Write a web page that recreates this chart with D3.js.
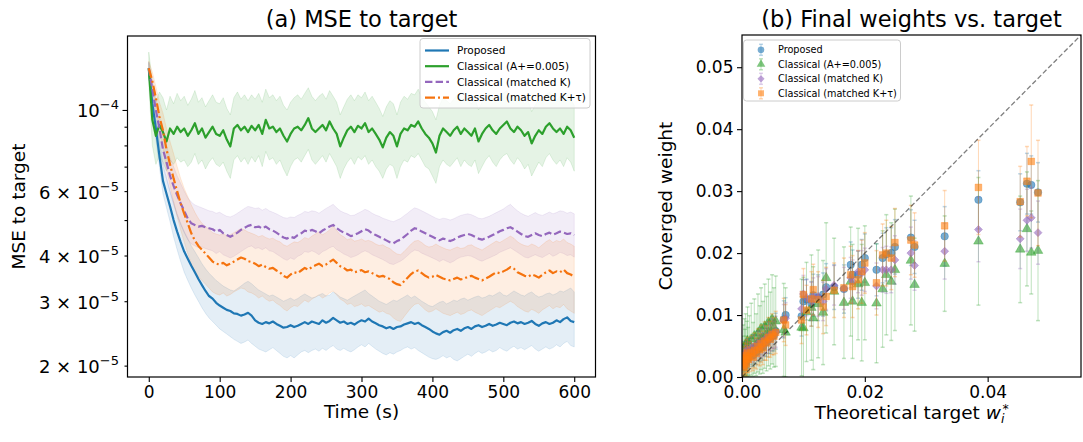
<!DOCTYPE html>
<html><head><meta charset="utf-8">
<script src="https://cdn.jsdelivr.net/npm/d3@7"></script>
<style>body{margin:0;background:#fff;} svg{display:block;font-family:"DejaVu Sans",sans-serif;}</style>
</head><body><svg id="c" width="1083" height="442"></svg>
<script>
// ---------------- Panel (a): MSE to target (values in units of 1e-5) ----------------
const MSE_UNIT = 1e-5;
const timeS = [0,5,10,15,20,25,30,35,40,45,50,55,60,65,70,75,80,85,90,95,100,105,110,115,120,125,130,135,140,145,150,155,160,165,170,175,180,185,190,195,200,205,210,215,220,225,230,235,240,245,250,255,260,265,270,275,280,285,290,295,300,305,310,315,320,325,330,335,340,345,350,355,360,365,370,375,380,385,390,395,400,405,410,415,420,425,430,435,440,445,450,455,460,465,470,475,480,485,490,495,500,505,510,515,520,525,530,535,540,545,550,555,560,565,570,575,580,585,590,595,600];

const propMean = [13.0,10.4,8.9,7.5,6.4,5.9,5.45,5.0,4.65,4.35,
4.1,3.92,3.75,3.6,3.45,3.32,3.2,3.1,3.05,2.97,
2.92,2.88,2.84,2.82,2.78,2.77,2.74,2.76,2.79,2.74,
2.66,2.62,2.6,2.63,2.61,2.64,2.6,2.57,2.54,2.55,
2.58,2.55,2.57,2.6,2.63,2.6,2.64,2.62,2.6,2.66,
2.62,2.65,2.7,2.66,2.62,2.64,2.6,2.62,2.59,2.63,
2.66,2.64,2.69,2.64,2.61,2.58,2.56,2.53,2.55,2.52,
2.55,2.56,2.59,2.61,2.63,2.6,2.62,2.58,2.55,2.52,
2.48,2.45,2.43,2.47,2.49,2.46,2.5,2.52,2.49,2.53,
2.55,2.52,2.56,2.58,2.55,2.57,2.6,2.57,2.59,2.62,
2.6,2.58,2.62,2.64,2.61,2.63,2.6,2.62,2.65,2.6,
2.57,2.61,2.63,2.6,2.62,2.66,2.63,2.68,2.71,2.65,
2.63];
const propHi = [13.5,11.0,9.5,8.1,7.0,6.5,6.0,5.6,5.2,4.9,
4.65,4.45,4.25,4.1,3.95,3.8,3.68,3.58,3.5,3.42,
3.36,3.3,3.26,3.22,3.2,3.25,3.3,3.36,3.4,3.35,
3.28,3.22,3.18,3.14,3.1,3.12,3.08,3.04,3.0,3.03,
3.06,3.02,3.05,3.1,3.14,3.1,3.06,3.08,3.12,3.15,
3.1,3.12,3.18,3.14,3.08,3.05,3.02,3.06,3.1,3.14,
3.18,3.22,3.15,3.1,3.05,3.0,2.97,2.94,2.98,3.02,
3.0,3.04,3.08,3.12,3.06,3.1,3.05,3.0,2.96,2.92,
2.9,2.94,2.98,3.0,2.95,2.98,3.02,3.0,3.04,3.06,
3.02,3.05,3.08,3.1,3.06,3.08,3.12,3.1,3.14,3.18,
3.12,3.1,3.15,3.2,3.16,3.12,3.1,3.15,3.18,3.12,
3.08,3.1,3.14,3.16,3.12,3.15,3.2,3.18,3.22,3.26,
3.18];
const propLo = [12.4,9.8,8.3,7.0,5.9,5.4,4.95,4.5,4.15,3.85,
3.6,3.42,3.26,3.12,3.0,2.88,2.78,2.7,2.64,2.58,
2.52,2.48,2.44,2.4,2.36,2.33,2.3,2.32,2.35,2.3,
2.26,2.22,2.2,2.18,2.21,2.24,2.2,2.16,2.12,2.1,
2.13,2.1,2.14,2.18,2.2,2.17,2.2,2.22,2.19,2.23,
2.2,2.24,2.27,2.22,2.2,2.23,2.2,2.18,2.21,2.25,
2.28,2.25,2.3,2.26,2.22,2.19,2.16,2.14,2.17,2.15,
2.18,2.2,2.23,2.25,2.22,2.24,2.2,2.17,2.14,2.11,
2.09,2.08,2.1,2.13,2.1,2.12,2.08,2.06,2.09,2.12,
2.15,2.12,2.16,2.19,2.16,2.18,2.21,2.18,2.2,2.24,
2.21,2.19,2.23,2.26,2.22,2.24,2.21,2.24,2.27,2.22,
2.19,2.22,2.25,2.22,2.24,2.28,2.25,2.3,2.33,2.27,
2.25];

const apMean = [13.0,9.4,8.5,9.1,8.7,8.2,8.9,8.6,9.0,8.7,
8.9,8.5,8.8,9.2,8.6,8.9,8.4,8.7,9.0,8.6,
8.5,8.8,8.3,7.95,8.9,9.1,8.8,9.0,8.7,9.05,
8.8,9.1,8.6,9.4,8.9,9.0,8.7,8.9,8.5,8.2,
8.6,8.9,9.0,8.8,9.1,9.5,8.9,8.7,8.9,9.1,
8.8,9.3,8.9,8.6,7.95,8.4,8.8,9.0,8.7,9.05,
8.9,9.2,8.7,8.9,8.6,8.3,7.9,8.4,8.7,8.5,
7.95,8.6,8.9,8.8,9.1,9.0,9.3,8.9,8.6,8.4,
8.1,7.65,8.5,8.9,8.7,8.5,8.8,9.0,8.6,8.9,
8.7,8.5,8.9,8.2,8.6,8.9,9.1,8.8,8.6,8.9,
9.1,9.3,8.9,8.7,9.0,8.8,8.5,8.7,8.1,8.5,
8.8,8.6,9.0,9.2,8.9,8.7,8.9,8.6,9.0,8.8,
8.4];
const apHi = [14.4,12.0,10.5,11.2,10.8,10.0,10.9,10.4,11.1,10.6,
10.9,10.3,10.7,11.3,10.5,10.8,10.2,10.6,11.0,10.5,
10.4,10.8,10.1,9.7,10.8,11.2,10.7,11.0,10.6,11.0,
10.7,11.1,10.5,11.4,10.8,11.0,10.6,10.9,10.3,10.0,
10.5,10.8,11.0,10.7,11.1,11.5,10.9,10.6,10.9,11.1,
10.7,11.3,10.9,10.5,9.7,10.2,10.7,11.0,10.6,11.0,
10.8,11.2,10.6,10.9,10.5,10.1,9.6,10.2,10.6,10.4,
9.7,10.5,10.9,10.7,11.1,11.0,11.4,10.8,10.5,10.2,
9.9,9.4,10.3,10.8,10.6,10.4,10.7,11.0,10.5,10.8,
10.6,10.4,10.8,10.0,10.5,10.8,11.1,10.7,10.5,10.8,
11.1,11.3,10.8,10.6,11.0,10.7,10.4,10.6,9.9,10.3,
10.7,10.5,11.0,11.2,10.8,10.6,10.9,10.5,11.0,10.7,
10.3];
const apLo = [11.8,8.0,7.1,7.5,7.2,6.8,7.3,7.1,7.4,7.2,
7.3,7.0,7.2,7.6,7.1,7.3,6.9,7.2,7.4,7.1,
7.0,7.2,6.8,6.5,7.3,7.5,7.2,7.4,7.1,7.45,
7.2,7.5,7.0,7.7,7.3,7.4,7.1,7.3,6.9,6.6,
7.0,7.3,7.4,7.2,7.5,7.8,7.3,7.1,7.3,7.5,
7.2,7.6,7.3,7.0,6.5,6.9,7.2,7.4,7.1,7.45,
7.3,7.5,7.1,7.3,7.0,6.8,6.5,6.9,7.1,7.0,
6.5,7.0,7.3,7.2,7.5,7.4,7.6,7.3,7.0,6.9,
6.6,6.3,7.0,7.3,7.1,7.0,7.2,7.4,7.0,7.3,
7.1,7.0,7.3,6.7,7.0,7.3,7.5,7.2,7.0,7.3,
7.5,7.6,7.3,7.1,7.4,7.2,6.9,7.1,6.6,6.9,
7.2,7.0,7.4,7.6,7.3,7.1,7.3,7.0,7.4,7.2,
6.8];

const kMean = [13.0,11.4,10.0,8.9,7.8,7.2,6.6,6.2,5.85,5.55,
5.3,5.05,4.9,4.85,4.8,4.82,4.78,4.75,4.72,4.65,
4.7,4.6,4.55,4.5,4.55,4.62,4.7,4.76,4.82,4.85,
4.78,4.8,4.74,4.8,4.72,4.68,4.62,4.55,4.48,4.45,
4.5,4.47,4.55,4.6,4.68,4.65,4.7,4.66,4.6,4.68,
4.74,4.8,4.85,4.75,4.68,4.62,4.58,4.52,4.55,4.6,
4.66,4.72,4.68,4.6,4.55,4.5,4.45,4.4,4.35,4.32,
4.38,4.42,4.5,4.58,4.68,4.75,4.72,4.65,4.6,4.55,
4.5,4.45,4.4,4.45,4.42,4.38,4.42,4.48,4.52,4.55,
4.58,4.55,4.5,4.45,4.42,4.46,4.5,4.55,4.6,4.66,
4.7,4.75,4.78,4.72,4.65,4.58,4.52,4.5,4.55,4.6,
4.55,4.52,4.58,4.62,4.56,4.6,4.65,4.62,4.58,4.6,
4.55];
const kHi = [13.5,12.0,10.8,9.7,8.6,8.0,7.4,7.0,6.6,6.3,
6.0,5.75,5.6,5.5,5.45,5.4,5.35,5.3,5.28,5.22,
5.25,5.18,5.12,5.1,5.15,5.22,5.3,5.38,5.45,5.42,
5.38,5.4,5.32,5.38,5.3,5.25,5.2,5.14,5.08,5.06,
5.1,5.08,5.15,5.2,5.28,5.25,5.3,5.28,5.22,5.3,
5.38,5.45,5.52,5.4,5.3,5.24,5.2,5.14,5.16,5.22,
5.28,5.35,5.3,5.22,5.16,5.12,5.06,5.02,4.98,4.95,
5.0,5.05,5.14,5.22,5.32,5.4,5.36,5.3,5.24,5.18,
5.12,5.06,5.02,5.06,5.04,5.0,5.04,5.1,5.15,5.18,
5.2,5.17,5.12,5.06,5.04,5.08,5.12,5.18,5.24,5.3,
5.36,5.45,5.52,5.4,5.3,5.22,5.16,5.12,5.18,5.24,
5.18,5.15,5.2,5.26,5.2,5.24,5.3,5.28,5.22,5.26,
5.2];
const kLo = [12.5,10.8,9.3,8.2,7.1,6.5,5.95,5.5,5.15,4.85,
4.62,4.42,4.3,4.25,4.2,4.22,4.18,4.15,4.12,4.05,
4.1,4.02,3.98,3.94,3.98,4.04,4.1,4.16,4.22,4.25,
4.18,4.2,4.15,4.2,4.12,4.1,4.04,3.98,3.92,3.88,
3.94,3.9,3.98,4.02,4.1,4.08,4.12,4.08,4.02,4.1,
4.14,4.2,4.24,4.15,4.1,4.04,4.0,3.95,3.98,4.02,
4.08,4.12,4.08,4.02,3.98,3.94,3.9,3.85,3.8,3.78,
3.82,3.86,3.92,4.0,4.08,4.14,4.12,4.06,4.02,3.98,
3.94,3.9,3.85,3.9,3.86,3.82,3.86,3.92,3.96,3.98,
4.0,3.98,3.94,3.89,3.86,3.9,3.94,3.98,4.02,4.08,
4.12,4.16,4.2,4.14,4.08,4.02,3.96,3.94,3.98,4.02,
3.98,3.95,4.0,4.05,3.98,4.02,4.08,4.05,4.0,4.02,
3.96];

const ktMean = [13.0,12.0,10.8,9.6,8.8,7.8,7.1,6.5,6.0,5.55,
5.2,4.9,4.6,4.4,4.25,4.15,4.05,3.95,3.85,3.8,
3.78,3.82,3.76,3.8,3.85,3.9,3.95,3.92,3.86,3.84,
3.8,3.74,3.78,3.72,3.68,3.7,3.64,3.6,3.52,3.48,
3.55,3.6,3.58,3.64,3.7,3.66,3.72,3.76,3.8,3.74,
3.78,3.84,3.9,3.82,3.74,3.7,3.64,3.66,3.6,3.62,
3.65,3.6,3.62,3.58,3.54,3.5,3.52,3.48,3.45,3.38,
3.34,3.32,3.4,3.48,3.56,3.62,3.64,3.58,3.52,3.48,
3.5,3.54,3.5,3.46,3.44,3.42,3.45,3.48,3.44,3.46,
3.5,3.52,3.48,3.45,3.42,3.46,3.5,3.55,3.6,3.58,
3.62,3.66,3.72,3.68,3.6,3.56,3.52,3.5,3.55,3.52,
3.48,3.54,3.6,3.64,3.58,3.62,3.6,3.66,3.58,3.55,
3.5];
const ktHi = [13.6,12.7,11.6,10.5,9.8,8.9,8.2,7.6,7.0,6.5,
6.1,5.8,5.5,5.25,5.05,4.9,4.8,4.72,4.62,4.58,
4.55,4.6,4.52,4.56,4.62,4.68,4.74,4.7,4.64,4.6,
4.56,4.5,4.54,4.48,4.44,4.46,4.4,4.36,4.28,4.24,
4.3,4.36,4.34,4.4,4.48,4.44,4.52,4.58,4.64,4.56,
4.62,4.7,4.82,4.68,4.56,4.5,4.42,4.45,4.38,4.4,
4.44,4.38,4.4,4.36,4.3,4.26,4.28,4.22,4.18,4.1,
4.04,4.02,4.1,4.2,4.3,4.38,4.4,4.34,4.26,4.22,
4.24,4.3,4.24,4.2,4.16,4.14,4.18,4.22,4.18,4.2,
4.26,4.28,4.22,4.18,4.14,4.2,4.26,4.32,4.38,4.34,
4.4,4.46,4.52,4.46,4.36,4.3,4.26,4.24,4.3,4.26,
4.2,4.28,4.36,4.42,4.34,4.4,4.36,4.44,4.34,4.3,
4.24];
const ktLo = [12.4,11.3,10.0,8.8,7.9,6.9,6.2,5.6,5.1,4.7,
4.35,4.05,3.8,3.62,3.5,3.42,3.34,3.26,3.18,3.14,
3.12,3.16,3.1,3.13,3.18,3.22,3.26,3.24,3.18,3.16,
3.12,3.06,3.1,3.04,3.0,3.02,2.96,2.92,2.86,2.82,
2.88,2.92,2.9,2.96,3.02,2.98,3.04,3.08,3.12,3.06,
3.1,3.16,3.2,3.12,3.04,3.0,2.94,2.96,2.9,2.92,
2.95,2.9,2.92,2.88,2.84,2.8,2.82,2.78,2.76,2.7,
2.66,2.64,2.72,2.8,2.88,2.94,2.96,2.9,2.84,2.8,
2.82,2.86,2.82,2.78,2.76,2.74,2.77,2.8,2.76,2.78,
2.82,2.84,2.8,2.77,2.74,2.78,2.82,2.86,2.9,2.88,
2.92,2.96,3.0,2.96,2.9,2.86,2.82,2.8,2.85,2.82,
2.78,2.84,2.88,2.92,2.86,2.9,2.88,2.94,2.86,2.82,
2.78];

const seriesNames = ["Proposed","Classical (A+=0.005)","Classical (matched K)","Classical (matched K+τ)"];
const timeTicks = [0,100,200,300,400,500,600];
const mseMajorTicks = [1e-4];
const mseMinorTicks = [2e-5,3e-5,4e-5,5e-5,6e-5,7e-5,8e-5,9e-5];
const mseLabelTicks = [[1e-4,"1","−4"],[6e-5,"6","−5"],[4e-5,"4","−5"],[3e-5,"3","−5"],[2e-5,"2","−5"]];

// ---------------- Panel (b): final weights vs target ----------------
const targets = [0.0001,0.0002,0.0003,0.0004,0.0005,0.0006,0.0007,0.0008,0.0009,0.0010,0.0012,0.0015,0.0018,0.0020,0.0023,0.0026,0.0029,0.0031,0.0034,0.0037,0.0040,0.0043,0.0046,0.0049,0.0052,0.0055,
0.0068,0.0071,
0.0097,0.0100,0.0105,0.0113,0.0116,0.0124,0.0132,0.0137,0.0150,0.0166,0.0177,0.0180,0.0189,0.0195,0.0200,0.0219,0.0229,0.0235,0.0243,0.0249,
0.0275,0.0281,0.0330,0.0385,0.0453,0.0464,0.0471,0.0482];
const propW = [0.0026,0.0030,0.0022,0.0034,0.0028,0.0038,0.0025,0.0033,0.0040,0.0031,0.0036,0.0042,0.0035,0.0045,0.0040,0.0050,0.0046,0.0055,0.0049,0.0060,0.0056,0.0065,0.0062,0.0070,0.0067,0.0074,
0.0093,0.0100,
0.0098,0.0122,0.0125,0.0118,0.0132,0.0128,0.0133,0.0145,0.0145,0.0142,0.0181,0.0165,0.0165,0.0181,0.0192,0.0173,0.0192,0.0198,0.0200,0.0210,
0.0225,0.0210,0.0227,0.0286,0.0282,0.0312,0.0310,0.0298];
const propErr = [0.0015,0.0018,0.0014,0.0019,0.0016,0.0020,0.0015,0.0018,0.0021,0.0017,0.0019,0.0022,0.0018,0.0023,0.0020,0.0024,0.0021,0.0025,0.0022,0.0026,0.0023,0.0027,0.0024,0.0028,0.0025,0.0029,
0.0030,0.0028,
0.0032,0.0035,0.0033,0.0036,0.0034,0.0037,0.0035,0.0038,0.0036,0.0039,0.0037,0.0040,0.0038,0.0041,0.0039,0.0042,0.0040,0.0043,0.0041,0.0044,
0.0045,0.0043,0.0048,0.0047,0.0046,0.0049,0.0047,0.0048];
const apW = [0.0031,0.0042,0.0025,0.0048,0.0037,0.0052,0.0030,0.0045,0.0058,0.0039,0.0050,0.0061,0.0044,0.0066,0.0052,0.0071,0.0060,0.0078,0.0064,0.0082,0.0070,0.0088,0.0075,0.0093,0.0080,0.0090,
0.0076,0.0072,
0.0080,0.0079,0.0105,0.0112,0.0095,0.0118,0.0104,0.0160,0.0138,0.0120,0.0154,0.0122,0.0150,0.0120,0.0152,0.0119,0.0142,0.0165,0.0154,0.0173,
0.0188,0.0149,0.0183,0.0219,0.0206,0.0239,0.0201,0.0204];
const apErr = [0.0035,0.0042,0.0032,0.0046,0.0040,0.0050,0.0036,0.0045,0.0055,0.0041,0.0049,0.0058,0.0044,0.0060,0.0050,0.0063,0.0055,0.0066,0.0058,0.0068,0.0060,0.0070,0.0062,0.0072,0.0064,0.0073,
0.0075,0.0072,
0.0078,0.0082,0.0080,0.0085,0.0083,0.0087,0.0084,0.0089,0.0086,0.0090,0.0088,0.0092,0.0090,0.0094,0.0092,0.0096,0.0094,0.0097,0.0095,0.0098,
0.0104,0.0075,0.0077,0.0103,0.0086,0.0092,0.0067,0.0113];
const kW = [0.0028,0.0033,0.0024,0.0036,0.0030,0.0041,0.0027,0.0036,0.0044,0.0034,0.0040,0.0047,0.0039,0.0049,0.0044,0.0054,0.0049,0.0057,0.0052,0.0061,0.0058,0.0066,0.0063,0.0070,0.0068,0.0073,
0.0091,0.0095,
0.0110,0.0134,0.0128,0.0122,0.0130,0.0130,0.0122,0.0142,0.0148,0.0143,0.0160,0.0154,0.0170,0.0168,0.0173,0.0147,0.0173,0.0173,0.0173,0.0189,
0.0200,0.0180,0.0203,0.0238,0.0223,0.0253,0.0257,0.0233];
const kErr = [0.0012,0.0014,0.0011,0.0015,0.0013,0.0016,0.0012,0.0015,0.0017,0.0014,0.0016,0.0018,0.0015,0.0019,0.0017,0.0020,0.0018,0.0021,0.0019,0.0022,0.0020,0.0023,0.0021,0.0024,0.0022,0.0025,
0.0026,0.0025,
0.0028,0.0030,0.0029,0.0031,0.0030,0.0032,0.0031,0.0033,0.0032,0.0034,0.0033,0.0035,0.0034,0.0036,0.0035,0.0037,0.0036,0.0038,0.0037,0.0039,
0.0042,0.0040,0.0045,0.0052,0.0048,0.0050,0.0049,0.0051];
const ktW = [0.0019,0.0027,0.0016,0.0031,0.0024,0.0035,0.0021,0.0030,0.0038,0.0028,0.0033,0.0040,0.0032,0.0043,0.0038,0.0049,0.0044,0.0054,0.0047,0.0058,0.0055,0.0064,0.0061,0.0069,0.0066,0.0072,
0.0092,0.0084,
0.0092,0.0133,0.0108,0.0126,0.0141,0.0125,0.0113,0.0130,0.0140,0.0144,0.0165,0.0146,0.0157,0.0170,0.0184,0.0152,0.0197,0.0200,0.0192,0.0217,
0.0221,0.0213,0.0244,0.0306,0.0283,0.0316,0.0348,0.0297];
const ktErr = [0.0018,0.0022,0.0017,0.0024,0.0020,0.0025,0.0019,0.0023,0.0026,0.0021,0.0024,0.0027,0.0022,0.0028,0.0025,0.0029,0.0026,0.0030,0.0027,0.0031,0.0028,0.0032,0.0029,0.0033,0.0030,0.0034,
0.0035,0.0033,
0.0038,0.0042,0.0040,0.0044,0.0041,0.0045,0.0043,0.0047,0.0044,0.0048,0.0046,0.0050,0.0047,0.0051,0.0049,0.0052,0.0050,0.0053,0.0051,0.0055,
0.0056,0.0052,0.0057,0.0076,0.0057,0.0056,0.0091,0.0085];
const weightTicksY = [0,0.01,0.02,0.03,0.04,0.05];
const weightTicksX = [0,0.02,0.04];

// ---------------- drawing ----------------
const svg = d3.select("#c");
const colors = ["#1f77b4","#2ca02c","#9467bd","#f5730e"];
const scatterColors = ["#1f77b4","#2ca02c","#9467bd","#ff7f0e"];
const FONT_TICK = 17, FONT_LABEL = 18.5, FONT_TITLE = 22.5;

// ---- Panel (a)
const A = {l:127.5, r:595.5, t:36, b:377};
const x1 = d3.scaleLinear().domain([-30,630]).range([A.l,A.r]);
const y1 = d3.scaleLog().domain([1.8618e-5,1.593e-4]).range([A.b,A.t]);

svg.append("clipPath").attr("id","clipA").append("rect")
  .attr("x",A.l).attr("y",A.t).attr("width",A.r-A.l).attr("height",A.b-A.t);
const gA = svg.append("g").attr("clip-path","url(#clipA)");

const seriesA = [
  {mean:propMean, lo:propLo, hi:propHi, dash:null},
  {mean:apMean, lo:apLo, hi:apHi, dash:null},
  {mean:kMean, lo:kLo, hi:kHi, dash:"7.4,3.2"},
  {mean:ktMean, lo:ktLo, hi:ktHi, dash:"10,3,2,3"}
];
seriesA.forEach((s,k)=>{
  const area = d3.area().x((d,i)=>x1(timeS[i])).y0((d,i)=>y1(s.lo[i]*MSE_UNIT)).y1((d,i)=>y1(s.hi[i]*MSE_UNIT));
  gA.append("path").datum(timeS).attr("d",area)
    .attr("fill",colors[k]).attr("fill-opacity",0.12)
    .attr("stroke",colors[k]).attr("stroke-opacity",0.12).attr("stroke-width",1);
});
seriesA.forEach((s,k)=>{
  const line = d3.line().x((d,i)=>x1(timeS[i])).y((d,i)=>y1(s.mean[i]*MSE_UNIT));
  const p = gA.append("path").datum(timeS).attr("d",line)
    .attr("fill","none").attr("stroke",colors[k]).attr("stroke-width",2.2)
    .attr("stroke-linejoin","round");
  if (s.dash) p.attr("stroke-dasharray",s.dash);
});

// axes (a)
const axA = d3.axisBottom(x1).tickValues(timeTicks).tickSize(5).tickPadding(3.5).tickFormat(d3.format("d"));
const gxA = svg.append("g").attr("transform",`translate(0,${A.b})`).call(axA);
gxA.select(".domain").remove();
gxA.selectAll("text").attr("font-size",FONT_TICK).attr("fill","#000").attr("font-family","DejaVu Sans");
gxA.selectAll("line").attr("stroke","#000").attr("stroke-width",1.1);

const gyA = svg.append("g").attr("transform",`translate(${A.l},0)`);
gyA.call(d3.axisLeft(y1).tickValues(mseMajorTicks).tickSize(5).tickFormat(""));
gyA.call(g=>g.select(".domain").remove());
const gyAm = svg.append("g").attr("transform",`translate(${A.l},0)`);
gyAm.call(d3.axisLeft(y1).tickValues(mseMinorTicks).tickSize(3).tickFormat(""));
gyAm.select(".domain").remove();
svg.selectAll(".tick line").attr("stroke","#000").attr("stroke-width",1.1);

mseLabelTicks.forEach(([v,m,e])=>{
  const t = svg.append("text").attr("x",A.l-8.5).attr("y",y1(v)+7.5)
    .attr("text-anchor","end").attr("font-size",18).attr("fill","#000");
  if (m==="1") t.append("tspan").text("10");
  else t.append("tspan").text(m+" × 10");
  t.append("tspan").attr("dy",-8).attr("font-size",13).text(e);
});

svg.append("rect").attr("x",A.l).attr("y",A.t).attr("width",A.r-A.l).attr("height",A.b-A.t)
  .attr("fill","none").attr("stroke","#000").attr("stroke-width",1.2);

svg.append("text").attr("x",(A.l+A.r)/2).attr("y",27).attr("text-anchor","middle")
  .attr("font-size",FONT_TITLE).text("(a) MSE to target");
svg.append("text").attr("x",(A.l+A.r)/2).attr("y",418).attr("text-anchor","middle")
  .attr("font-size",FONT_LABEL).text("Time (s)");
svg.append("text").attr("transform",`translate(24.5,${(A.t+A.b)/2}) rotate(-90)`).attr("text-anchor","middle")
  .attr("font-size",FONT_LABEL).text("MSE to target");

// legend (a)
const legA = svg.append("g");
legA.append("rect").attr("x",420).attr("y",38.5).attr("width",170).attr("height",69.5).attr("rx",3)
  .attr("fill","#fff").attr("fill-opacity",0.8).attr("stroke","#cccccc").attr("stroke-width",1);
seriesNames.forEach((n,k)=>{
  const yy = 50.5 + k*15.7;
  const l = legA.append("line").attr("x1",425).attr("x2",449).attr("y1",yy).attr("y2",yy)
    .attr("stroke",colors[k]).attr("stroke-width",2.2);
  if (seriesA[k].dash) l.attr("stroke-dasharray",seriesA[k].dash);
  legA.append("text").attr("x",457).attr("y",yy+3.8).attr("font-size",10.5).text(n);
});

// ---- Panel (b)
const B = {l:742, r:1081, t:35, b:377};
const x2 = d3.scaleLinear().domain([0,0.0552]).range([B.l,B.r]);
const y2 = d3.scaleLinear().domain([0,0.0552]).range([B.b,B.t]);

svg.append("clipPath").attr("id","clipB").append("rect")
  .attr("x",B.l).attr("y",B.t).attr("width",B.r-B.l).attr("height",B.b-B.t);
const gB = svg.append("g").attr("clip-path","url(#clipB)");

const scatterSeries = [
  {w:propW, e:propErr, sym:d3.symbolCircle, size:44, rot:0},
  {w:apW, e:apErr, sym:d3.symbolTriangle, size:40, rot:0},
  {w:kW, e:kErr, sym:d3.symbolSquare, size:32, rot:45},
  {w:ktW, e:ktErr, sym:d3.symbolSquare, size:44, rot:0}
];
scatterSeries.forEach((s,k)=>{
  const g = gB.append("g");
  targets.forEach((t,i)=>{
    const cx = x2(t), ylo = y2(s.w[i]-s.e[i]), yhi = y2(s.w[i]+s.e[i]);
    g.append("line").attr("x1",cx).attr("x2",cx).attr("y1",ylo).attr("y2",yhi)
      .attr("stroke",scatterColors[k]).attr("stroke-opacity",0.3).attr("stroke-width",1);
    [ylo,yhi].forEach(yc=>g.append("line").attr("x1",cx-2).attr("x2",cx+2).attr("y1",yc).attr("y2",yc)
      .attr("stroke",scatterColors[k]).attr("stroke-opacity",0.3).attr("stroke-width",1.5));
  });
  targets.forEach((t,i)=>{
    g.append("path").attr("d",d3.symbol().type(s.sym).size(s.size)())
      .attr("transform",`translate(${x2(t)},${y2(s.w[i])}) rotate(${s.rot})`)
      .attr("fill",scatterColors[k]).attr("fill-opacity",0.6)
      .attr("stroke",scatterColors[k]).attr("stroke-opacity",0.6).attr("stroke-width",0.6);
  });
});
gB.append("line").attr("x1",x2(0)).attr("y1",y2(0)).attr("x2",x2(0.0552)).attr("y2",y2(0.0552))
  .attr("stroke","#000").attr("stroke-opacity",0.5).attr("stroke-width",1.3).attr("stroke-dasharray","5,2.5");

const gxB = svg.append("g").attr("transform",`translate(0,${B.b})`)
  .call(d3.axisBottom(x2).tickValues(weightTicksX).tickSize(5).tickPadding(3.5).tickFormat(d3.format(".2f")));
gxB.select(".domain").remove();
const gyB = svg.append("g").attr("transform",`translate(${B.l},0)`)
  .call(d3.axisLeft(y2).tickValues(weightTicksY).tickSize(5).tickPadding(3.5).tickFormat(d3.format(".2f")));
gyB.select(".domain").remove();
[gxB,gyB].forEach(g=>{
  g.selectAll("text").attr("font-size",FONT_TICK).attr("fill","#000").attr("font-family","DejaVu Sans");
  g.selectAll("line").attr("stroke","#000").attr("stroke-width",1.1);
});
svg.append("rect").attr("x",B.l).attr("y",B.t).attr("width",B.r-B.l).attr("height",B.b-B.t)
  .attr("fill","none").attr("stroke","#000").attr("stroke-width",1.2);

svg.append("text").attr("x",(B.l+B.r)/2).attr("y",27).attr("text-anchor","middle")
  .attr("font-size",FONT_TITLE).text("(b) Final weights vs. target");
const xl = svg.append("text").attr("x",(B.l+B.r)/2).attr("y",419).attr("text-anchor","middle")
  .attr("font-size",FONT_LABEL);
xl.append("tspan").text("Theoretical target ");
xl.append("tspan").attr("font-style","italic").text("w");
xl.append("tspan").attr("font-size",12.5).attr("font-style","italic").attr("dy",3.5).text("i");
xl.append("tspan").attr("font-size",12.5).attr("dx",-2).attr("dy",-9.5).text("*");
svg.append("text").attr("transform",`translate(672,${(B.t+B.b)/2}) rotate(-90)`).attr("text-anchor","middle")
  .attr("font-size",FONT_LABEL).text("Converged weight");

// legend (b)
const legB = svg.append("g");
legB.append("rect").attr("x",743.5).attr("y",40).attr("width",157).attr("height",61).attr("rx",3)
  .attr("fill","#fff").attr("fill-opacity",0.8).attr("stroke","#cccccc").attr("stroke-width",1);
seriesNames.forEach((n,k)=>{
  const yy = 49.8 + k*14.5;
  const s = scatterSeries[k];
  legB.append("line").attr("x1",761).attr("x2",761).attr("y1",yy-5.5).attr("y2",yy+5.5)
    .attr("stroke",scatterColors[k]).attr("stroke-opacity",0.3).attr("stroke-width",1);
  [yy-5.5,yy+5.5].forEach(yc=>legB.append("line").attr("x1",759).attr("x2",763).attr("y1",yc).attr("y2",yc)
    .attr("stroke",scatterColors[k]).attr("stroke-opacity",0.3).attr("stroke-width",1.5));
  legB.append("path").attr("d",d3.symbol().type(s.sym).size(s.size*0.8)())
    .attr("transform",`translate(761,${yy}) rotate(${s.rot})`)
    .attr("fill",scatterColors[k]).attr("fill-opacity",0.6);
  legB.append("text").attr("x",778).attr("y",yy+3.5).attr("font-size",9.7).text(n);
});
</script></body></html>
